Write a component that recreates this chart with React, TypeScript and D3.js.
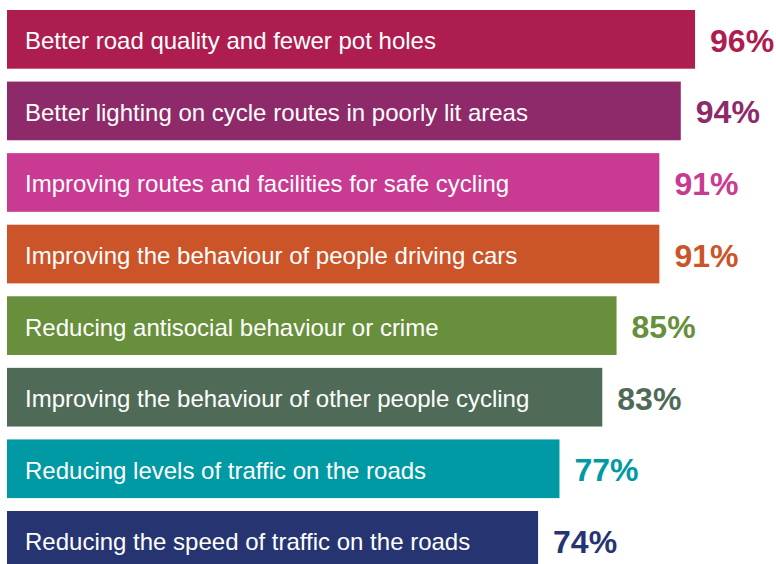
import * as d3 from 'd3'
import React from 'react'

// Survey answers, top to bottom
const labels = [
  'Better road quality and fewer pot holes',
  'Better lighting on cycle routes in poorly lit areas',
  'Improving routes and facilities for safe cycling',
  'Improving the behaviour of people driving cars',
  'Reducing antisocial behaviour or crime',
  'Improving the behaviour of other people cycling',
  'Reducing levels of traffic on the roads',
  'Reducing the speed of traffic on the roads',
]
const values = [96, 94, 91, 91, 85, 83, 77, 74]
const colors = ['#ad1d50', '#8f2a6a', '#c93a92', '#cc5429', '#688f3b', '#4f6b57', '#009aa5', '#263572']

const W = 776
const H = 564
const FONT = "Helvetica, Arial, 'Liberation Sans', sans-serif"

export default function App() {
  const step = 71.57
  const pad = 0.18
  const y = d3.scaleBand<string>()
    .domain(labels)
    .range([10, 10 + step * (labels.length - pad)])
    .paddingInner(pad)
    .paddingOuter(0)
  const x = d3.scaleLinear().domain([0, 100]).range([10, 723.6])

  return (
    <svg width={W} height={H} style={{ position: 'absolute', left: 0, top: 0, background: '#fff' }}>
      {labels.map((d, i) => {
        const top = y(d) as number
        const mid = top + y.bandwidth() / 2
        return (
          <g key={d}>
            <rect x={7} y={top} width={x(values[i]) - 7} height={y.bandwidth()} fill={colors[i]} />
            <text x={25} y={mid + 10} fill="#fff" fontFamily={FONT} fontSize={24}>{d}</text>
            <text x={x(values[i]) + 15} y={mid + 12.5} fill={colors[i]} fontFamily={FONT}
              fontSize={32} fontWeight="bold">{values[i]}%</text>
          </g>
        )
      })}
    </svg>
  )
}
